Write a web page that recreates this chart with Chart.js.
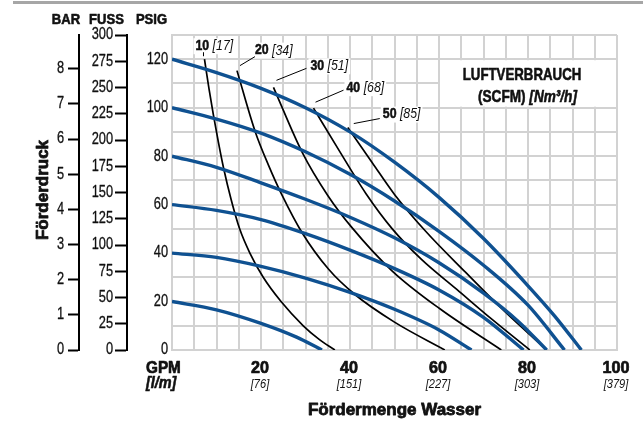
<!DOCTYPE html>
<html>
<head>
<meta charset="utf-8">
<script src="https://cdn.jsdelivr.net/npm/chart.js@4.4.0/dist/chart.umd.min.js"></script>
<style>
  html, body { margin: 0; padding: 0; background: #fff; }
  #wrap { width: 643px; height: 421px; }
</style>
</head>
<body>
<div id="wrap"><canvas id="pumpChart" width="643" height="421"></canvas></div>
<script>
// Förderdruck (PSIG) gegen Fördermenge (GPM) bei verschiedenen Luftdrücken
const p120 = [[0, 120], [10, 114.5], [20, 108], [30, 100], [40, 90], [50, 77.5], [60, 63], [70, 46], [80, 26.5], [86, 14], [92, 0]];
const p100 = [[0, 100], [10, 95.3], [20, 89.5], [30, 81.8], [40, 72.5], [50, 61.5], [60, 49], [70, 35], [80, 18.5], [88.2, 0]];
const p80 = [[0, 80], [10, 75.4], [20, 69], [30, 62.2], [40, 54.8], [50, 46.3], [60, 36], [70, 23.5], [78, 11.5], [84.2, 0]];
const p60 = [[0, 60], [10, 57.6], [20, 53.8], [30, 48], [40, 41.2], [50, 33.6], [60, 24.8], [70, 13.5], [79, 0]];
const p40 = [[0, 40], [10, 38.2], [20, 34.5], [30, 29.7], [40, 23.8], [50, 16.8], [60, 8.3], [67.3, 0]];
const p20 = [[0, 20], [10, 16.6], [20, 11], [28, 5.3], [33.7, 0]];

// Luftverbrauch SCFM
const a10 = [[7.3, 120], [8.3, 108], [9.3, 97], [10.4, 86], [11.6, 75], [13.3, 62], [15.2, 50], [17.5, 40], [20.5, 30], [24.5, 20], [29.5, 10], [33, 4.5], [36.6, 0]];
const a20 = [[14.6, 115.3], [18.7, 90.1], [21.7, 76.2], [24.7, 64], [29.2, 48.5], [35.2, 33.3], [41.1, 22.9], [50, 11.5], [61.3, 0]];
const a30 = [[22.8, 108.4], [29.2, 81.8], [35, 63.8], [40.4, 50.6], [49.5, 32.6], [60.2, 17], [74, 0]];
const a40 = [[31.8, 99.8], [37.4, 82.8], [43.6, 64.5], [49.5, 50], [56, 37.5], [64, 25], [72, 12.5], [80.4, 0]];
const a50 = [[39.5, 91.8], [45, 77.3], [50, 64.2], [57, 49], [66, 32], [75, 15.5], [84.2, 0]];

const airScfm = ["10", "20", "30", "40", "50"];
const airNm3 = ["[17]", "[34]", "[51]", "[68]", "[85]"];

const gpmTicks = [20, 40, 60, 80, 100];
const lpmTicks = ["[76]", "[151]", "[227]", "[303]", "[379]"];
const psigTicks = [0, 20, 40, 60, 80, 100, 120];

const pressureCurves = [p120, p100, p80, p60, p40, p20];
const airCurves = [a10, a20, a30, a40, a50];

const SANS = "'Liberation Sans', Arial, Helvetica, sans-serif";
const BLUE = "#0f5191";
const GRID = "#d2d2d2";
const INK = "#111";

// label placement relative to each curve's first point (pixels)
const labelOffsets = [[-9, -13], [18, -20], [37, -21], [33, -20], [35, -13]];
const leaderLines = [
  [[-1, -3], [-1, -7]],
  [[3, -5], [18, -14]],
  [[3, -7], [33, -19]],
  [[2, -6], [30, -18]],
  [[6, -4], [32, -9]],
];

const toXY = (arr) => arr.map((p) => ({ x: p[0], y: p[1] }));

const datasets = [];
pressureCurves.forEach((c) => {
  datasets.push({
    data: toXY(c),
    borderColor: BLUE,
    borderWidth: 3.4,
    pointRadius: 0,
    showLine: true,
    cubicInterpolationMode: "monotone",
    yAxisID: "y",
  });
});
airCurves.forEach((c) => {
  datasets.push({
    data: toXY(c),
    borderColor: "#000",
    borderWidth: 1.7,
    pointRadius: 0,
    showLine: true,
    cubicInterpolationMode: "monotone",
    yAxisID: "y",
  });
});

// text squeezed horizontally (the original uses a condensed face),
// with an optional outline to make it heavier
const txt = (ctx, s, x, y, font, align, sx, heavy) => {
  ctx.save();
  ctx.font = font;
  ctx.textAlign = align;
  ctx.translate(x, y);
  ctx.scale(sx, 1);
  ctx.fillText(s, 0, 0);
  if (heavy) {
    ctx.strokeStyle = ctx.fillStyle;
    ctx.lineWidth = heavy;
    ctx.lineJoin = "round";
    ctx.strokeText(s, 0, 0);
  }
  ctx.restore();
};

const runsWidth = (ctx, runs, sx) => {
  let w = 0;
  runs.forEach((r) => {
    ctx.font = r[1];
    w += ctx.measureText(r[0]).width * sx;
  });
  return w;
};

const drawRuns = (ctx, runs, x, y, sx, heavy) => {
  runs.forEach((r) => {
    txt(ctx, r[0], x, y, r[1], "left", sx, heavy);
    ctx.font = r[1];
    x += ctx.measureText(r[0]).width * sx;
  });
};

const decorations = {
  id: "decorations",
  beforeDatasetsDraw(chart) {
    const { ctx, scales } = chart;
    const x = scales.x, y = scales.y;
    // white box behind the legend text
    ctx.save();
    ctx.fillStyle = "#fff";
    const l = x.getPixelForValue(60) + 1, r = x.getPixelForValue(100) - 1;
    const t = y.getPixelForValue(120) + 1, b = y.getPixelForValue(100) - 1;
    ctx.fillRect(l, t, r - l, b - t);
    ctx.restore();
  },
  afterDatasetsDraw(chart) {
    const { ctx, scales } = chart;
    const x = scales.x, y = scales.y;
    ctx.save();
    ctx.textBaseline = "middle";
    airCurves.forEach((c, i) => {
      const sx = x.getPixelForValue(c[0][0]);
      const sy = y.getPixelForValue(c[0][1]);
      const runs = [[airScfm[i], "bold 14px " + SANS], [" " + airNm3[i], "italic 14px " + SANS]];
      const tx = sx + labelOffsets[i][0];
      const ty = sy + labelOffsets[i][1];
      const w = runsWidth(ctx, runs, 0.88);
      ctx.fillStyle = "#fff";
      ctx.fillRect(tx - 2, ty - 8, w + 4, 16);
      ctx.fillStyle = INK;
      txt(ctx, airScfm[i], tx, ty, runs[0][1], "left", 0.88, 0.5);
      ctx.font = runs[0][1];
      txt(ctx, runs[1][0], tx + ctx.measureText(airScfm[i]).width * 0.88, ty, runs[1][1], "left", 0.88, 0);
      const ll = leaderLines[i];
      ctx.strokeStyle = "#000";
      ctx.lineWidth = 1;
      ctx.beginPath();
      ctx.moveTo(sx + ll[0][0], sy + ll[0][1]);
      ctx.lineTo(sx + ll[1][0], sy + ll[1][1]);
      ctx.stroke();
    });

    // legend
    ctx.fillStyle = INK;
    txt(ctx, "LUFTVERBRAUCH", 522, 75, "bold 17px " + SANS, "center", 0.78, 0.6);
    const runs = [["(SCFM) ", "bold 17px " + SANS], ["[Nm³/h]", "bold italic 17px " + SANS]];
    drawRuns(ctx, runs, 478, 97, 0.8, 0.6);
    ctx.restore();
  },
  afterDraw(chart) {
    const { ctx, scales } = chart;
    const x = scales.x, y = scales.y;
    ctx.save();
    // top rule
    ctx.fillStyle = "#a6a6a6";
    ctx.fillRect(13, 1, 630, 3);

    ctx.fillStyle = INK;
    ctx.textBaseline = "middle";

    // header above the pressure scales
    const hf = "bold 15px " + SANS;
    txt(ctx, "BAR", scales.yBar.right - 13, 20, hf, "center", 0.87, 0.6);
    txt(ctx, "FUSS", scales.yFt.right - 20.5, 20, hf, "center", 0.87, 0.6);
    txt(ctx, "PSIG", y.right - 20.5, 20, hf, "center", 0.87, 0.6);

    // y tick labels
    const nf = "16px " + SANS;
    scales.yBar.ticks.forEach((t) => {
      txt(ctx, String(t.value), scales.yBar.right - 15, scales.yBar.getPixelForValue(t.value), nf, "right", 0.8, 0.3);
    });
    scales.yFt.ticks.forEach((t) => {
      txt(ctx, String(t.value), scales.yFt.right - 14, scales.yFt.getPixelForValue(t.value), nf, "right", 0.8, 0.3);
    });
    psigTicks.forEach((v) => {
      txt(ctx, String(v), y.right - 4, y.getPixelForValue(v), nf, "right", 0.8, 0.3);
    });

    // x tick labels
    gpmTicks.forEach((v, i) => {
      const px = x.getPixelForValue(v);
      txt(ctx, String(v), px - 1, 368, "bold 17px " + SANS, "center", 0.95, 0.7);
      txt(ctx, lpmTicks[i], px - 1, 384, "italic 13px " + SANS, "center", 0.85, 0);
    });
    const x0 = x.getPixelForValue(0);
    txt(ctx, "GPM", x0 - 26, 368, "bold 17px " + SANS, "left", 0.9, 0.7);
    txt(ctx, "[l/m]", x0 - 26, 384, "bold italic 16px " + SANS, "left", 0.9, 0.6);

    // axis titles
    ctx.textBaseline = "alphabetic";
    txt(ctx, "Fördermenge Wasser", (x.left + x.right) / 2, 415, "bold 17px " + SANS, "center", 1, 0.8);
    ctx.translate(48, 190);
    ctx.rotate(-Math.PI / 2);
    txt(ctx, "Förderdruck", 0, 0, "bold 17px " + SANS, "center", 1, 0.8);
    ctx.restore();
  },
};

const sideAxis = (max, step, weight, width, tickLen) => ({
  type: "linear",
  position: "left",
  min: 0,
  max: max,
  weight: weight,
  afterFit: (s) => { s.width = width; },
  ticks: { stepSize: step, includeBounds: false, display: false },
  grid: {
    drawOnChartArea: false,
    drawTicks: true,
    tickLength: tickLen,
    tickColor: "#000",
    tickWidth: 2,
  },
  border: { color: "#000", width: 2 },
});

new Chart(document.getElementById("pumpChart"), {
  type: "scatter",
  data: { datasets: datasets },
  options: {
    responsive: false,
    devicePixelRatio: 1,
    animation: false,
    events: [],
    layout: { padding: { left: 45, right: 26, top: 35, bottom: 0 } },
    plugins: { legend: { display: false }, tooltip: { enabled: false } },
    scales: {
      x: {
        type: "linear",
        min: 0,
        max: 100,
        afterFit: (s) => { s.height = 71; },
        ticks: { stepSize: 5, display: false },
        grid: { color: GRID, lineWidth: 2, drawTicks: false },
        border: { color: GRID, width: 2 },
      },
      y: {
        type: "linear",
        position: "left",
        min: 0,
        max: 130,
        weight: 0,
        afterFit: (s) => { s.width = 45; },
        ticks: { stepSize: 10, display: false },
        grid: { color: GRID, lineWidth: 2, drawTicks: false },
        border: { color: GRID, width: 2 },
      },
      yFt: sideAxis(300, 25, 1, 48, 12),
      yBar: sideAxis(8.96, 1, 2, 34, 11),
    },
  },
  plugins: [decorations],
});
</script>
</body>
</html>
